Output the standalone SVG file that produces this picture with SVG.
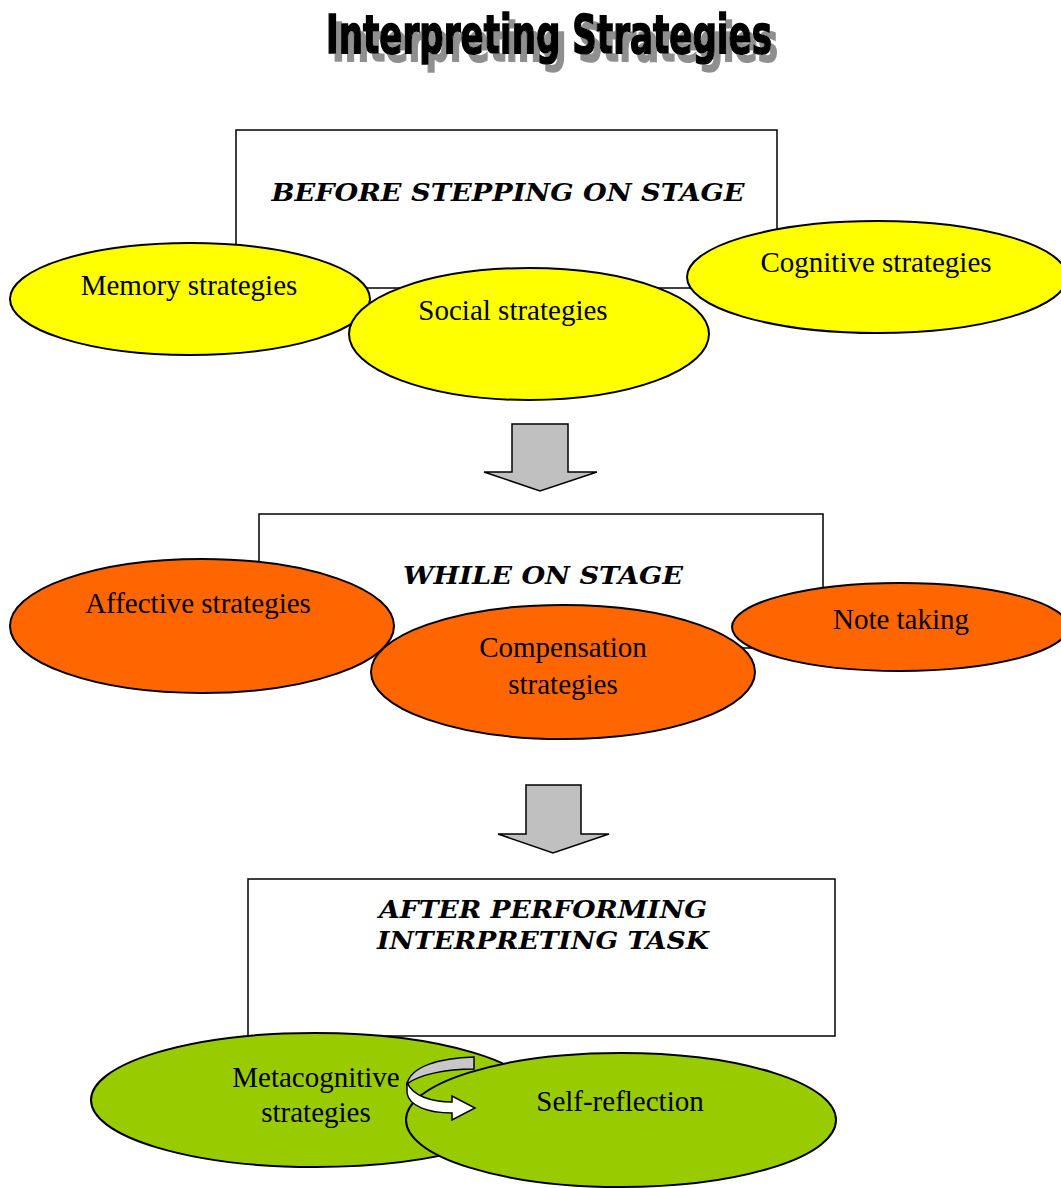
<svg xmlns="http://www.w3.org/2000/svg" width="1061" height="1188" viewBox="0 0 1061 1188">
<defs>
<style>
.box{fill:#fff;stroke:#000;stroke-width:1.5}
.ell{stroke:#000;stroke-width:2}
.y{fill:#ffff00}
.o{fill:#ff6600}
.g{fill:#99cc00}
.lbl{font-family:"Liberation Serif","Times New Roman",serif;font-size:29px;fill:#000;text-anchor:middle}
.hd{font-family:"DejaVu Serif",serif;font-weight:bold;font-style:italic;font-size:25px;fill:#000;text-anchor:middle}
.arr{fill:#c0c0c0;stroke:#000;stroke-width:1.5}
.title{font-family:"Liberation Sans Narrow","DejaVu Sans Condensed","Liberation Sans",sans-serif;font-weight:bold;font-size:54px;stroke:#000;stroke-width:1.6}
</style>
<filter id="shadow" x="-5%" y="-20%" width="115%" height="160%">
<feOffset in="SourceAlpha" dx="6" dy="8" result="off"/>
<feFlood flood-color="#8f8f8f" result="gray"/>
<feComposite in="gray" in2="off" operator="in" result="sh"/>
<feMerge><feMergeNode in="sh"/><feMergeNode in="SourceGraphic"/></feMerge>
</filter>
</defs>
<rect width="1061" height="1188" fill="#fff"/>

<g id="title">
<text class="title" x="326" y="53" textLength="446" lengthAdjust="spacingAndGlyphs" fill="#000" filter="url(#shadow)">Interpreting Strategies</text>
</g>

<g id="stage1">
<rect class="box" x="236" y="130" width="541" height="158"/>
<text class="hd" x="508" y="201" textLength="473" lengthAdjust="spacingAndGlyphs">BEFORE STEPPING ON STAGE</text>
</g>
<g id="memory">
<ellipse class="ell y" cx="190" cy="299" rx="180" ry="56"/>
<text class="lbl" x="189" y="295">Memory strategies</text>
</g>
<g id="social">
<ellipse class="ell y" cx="529" cy="334" rx="180" ry="66"/>
<text class="lbl" x="513" y="320">Social strategies</text>
</g>
<g id="cognitive">
<ellipse class="ell y" cx="877" cy="277" rx="190" ry="56"/>
<text class="lbl" x="876" y="272">Cognitive strategies</text>
</g>

<g id="connectors">
<path class="arr" d="M512,424 H568 V472 H597 L540,491 L484,472 H512 Z"/>
<path class="arr" d="M526,785 H581 V834 H609 L553,853 L498,834 H526 Z"/>
</g>

<g id="stage2">
<rect class="box" x="259" y="514" width="564" height="134"/>
<text class="hd" x="543" y="584" textLength="280" lengthAdjust="spacingAndGlyphs">WHILE ON STAGE</text>
</g>
<g id="affective">
<ellipse class="ell o" cx="202" cy="626" rx="192" ry="67"/>
<text class="lbl" x="198" y="613">Affective strategies</text>
</g>
<g id="compensation">
<ellipse class="ell o" cx="563" cy="672" rx="192" ry="67"/>
<text class="lbl" x="563" y="657">Compensation</text>
<text class="lbl" x="563" y="694">strategies</text>
</g>
<g id="notetaking">
<ellipse class="ell o" cx="900" cy="627" rx="168" ry="44"/>
<text class="lbl" x="901" y="629">Note taking</text>
</g>

<g id="stage3">
<rect class="box" x="248" y="879" width="587" height="157"/>
<text class="hd" x="543" y="918" textLength="328" lengthAdjust="spacingAndGlyphs">AFTER PERFORMING</text>
<text class="hd" x="543" y="949" textLength="332" lengthAdjust="spacingAndGlyphs">INTERPRETING TASK</text>
</g>
<g id="metacognitive">
<ellipse class="ell g" cx="315" cy="1100" rx="224" ry="67"/>
<text class="lbl" x="316" y="1087">Metacognitive</text>
<text class="lbl" x="316" y="1122">strategies</text>
</g>
<g id="selfreflection">
<ellipse class="ell g" cx="621" cy="1120" rx="215" ry="67"/>
<text class="lbl" x="620" y="1111">Self-reflection</text>
</g>
<g id="cycle">
<path d="M474,1057 C440,1058 411,1066 407,1084 C418,1075 445,1069 474,1069 Z" fill="#c8c8c8" stroke="#000" stroke-width="1.5"/>
<path d="M407,1082 C412,1096 432,1102 452,1102 L452,1096 L475,1108 L452,1120 L452,1113 C428,1113 409,1106 407,1093 Z" fill="#fff" stroke="#000" stroke-width="1.5"/>
</g>
</svg>
